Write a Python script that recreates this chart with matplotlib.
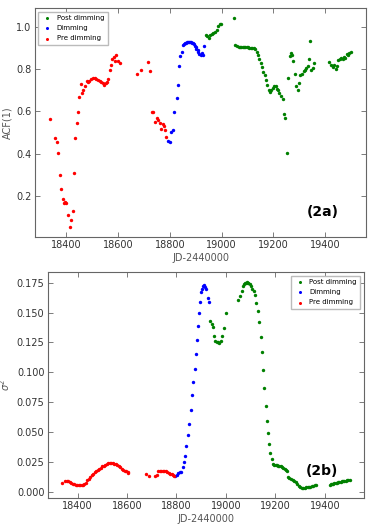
import matplotlib
matplotlib.use('Agg')
import matplotlib.pyplot as plt

# ---- panel (2a): ACF(1) ----
pre_jd_a = [18338, 18356, 18364, 18370, 18375, 18382, 18387, 18391, 18396, 18401,
            18408, 18414, 18419, 18425, 18430, 18435, 18441, 18446, 18450, 18457,
            18461, 18467, 18474, 18479, 18484, 18490, 18497, 18503, 18510, 18516,
            18523, 18529, 18535, 18542, 18547, 18552, 18557, 18563, 18568, 18573,
            18578, 18583, 18587, 18594, 18600, 18606,
            18675, 18690, 18714, 18723, 18730, 18737, 18743, 18751, 18756, 18761,
            18766, 18773, 18777, 18783, 18787]
pre_acf = [0.563, 0.476, 0.454, 0.402, 0.300, 0.230, 0.183, 0.164, 0.171, 0.168,
           0.111, 0.054, 0.083, 0.130, 0.308, 0.475, 0.543, 0.595, 0.670, 0.730,
           0.686, 0.703, 0.722, 0.743, 0.737, 0.743, 0.751, 0.759, 0.756, 0.751,
           0.749, 0.746, 0.741, 0.732, 0.725, 0.732, 0.741, 0.754, 0.798, 0.821,
           0.849, 0.857, 0.837, 0.865, 0.837, 0.830,
           0.776, 0.798, 0.835, 0.792, 0.595, 0.595, 0.549, 0.567, 0.560, 0.544,
           0.516, 0.540, 0.532, 0.514, 0.479]

dim_jd_a = [18794, 18800, 18805, 18814, 18818, 18826, 18831, 18836, 18841, 18846,
            18852, 18856, 18859, 18863, 18867, 18871, 18875, 18879, 18883, 18887,
            18890, 18894, 18897, 18900, 18903, 18907, 18910, 18914, 18919, 18923,
            18929, 18932]
dim_acf = [0.459, 0.454, 0.500, 0.511, 0.598, 0.665, 0.725, 0.816, 0.862, 0.883,
           0.914, 0.919, 0.922, 0.925, 0.927, 0.929, 0.930, 0.930, 0.929, 0.926,
           0.922, 0.917, 0.911, 0.904, 0.897, 0.889, 0.881, 0.870, 0.865, 0.875,
           0.865, 0.910]

post_jd_a = [18938, 18945, 18950, 18955, 18961, 18968, 18974, 18981, 18987, 18992,
             18997, 19048, 19053, 19059, 19066, 19071, 19076, 19082, 19087, 19092,
             19097, 19102, 19107, 19112, 19117, 19123, 19129, 19135, 19141, 19146,
             19151, 19156, 19161, 19166, 19172, 19177, 19182, 19187, 19192, 19197,
             19203, 19208, 19213, 19218, 19223, 19230, 19236, 19241, 19246, 19253,
             19257, 19262, 19268, 19272, 19277, 19283, 19288, 19293, 19298, 19303,
             19310, 19316, 19321, 19326, 19332, 19337, 19341, 19346, 19352, 19357,
             19415, 19422, 19428, 19435, 19440, 19445, 19450, 19457, 19462, 19467,
             19472, 19477, 19483, 19488, 19493, 19499]
post_acf = [0.963, 0.957, 0.946, 0.960, 0.968, 0.971, 0.976, 0.986, 1.002, 1.016,
            1.016, 1.040, 0.916, 0.910, 0.905, 0.904, 0.904, 0.903, 0.903, 0.903,
            0.903, 0.903, 0.902, 0.902, 0.901, 0.899, 0.894, 0.881, 0.865, 0.849,
            0.830, 0.810, 0.786, 0.770, 0.748, 0.727, 0.700, 0.694, 0.703, 0.711,
            0.722, 0.719, 0.708, 0.700, 0.687, 0.675, 0.659, 0.587, 0.568, 0.402,
            0.760, 0.862, 0.875, 0.868, 0.837, 0.779, 0.722, 0.703, 0.735, 0.773,
            0.779, 0.790, 0.798, 0.806, 0.814, 0.849, 0.935, 0.798, 0.806, 0.827,
            0.835, 0.819, 0.811, 0.819, 0.802, 0.817, 0.843, 0.846, 0.852, 0.846,
            0.859, 0.854, 0.870, 0.865, 0.875, 0.881]

# ---- panel (2b): sigma^2 ----
pre_jd_b = [18338, 18350, 18356, 18362, 18368, 18374, 18380, 18386, 18392, 18398,
            18404, 18410, 18416, 18422, 18428, 18434, 18440, 18446, 18452, 18458,
            18464, 18470, 18476, 18482, 18488, 18494, 18500, 18506, 18512, 18518,
            18524, 18530, 18536, 18542, 18548, 18554, 18560, 18566, 18572, 18578,
            18584, 18590, 18596, 18602, 18606,
            18675, 18690, 18712, 18720, 18726, 18732, 18738, 18744, 18750, 18756,
            18762, 18768, 18774, 18780, 18786, 18790]
pre_var = [0.0072, 0.0090, 0.0090, 0.0088, 0.0084, 0.0075, 0.0066, 0.0061, 0.0058, 0.0056,
           0.0054, 0.0052, 0.0052, 0.0055, 0.0061, 0.0075, 0.0094, 0.0108, 0.0120, 0.0135,
           0.0150, 0.0162, 0.0170, 0.0178, 0.0188, 0.0200, 0.0210, 0.0217, 0.0225, 0.0232,
           0.0237, 0.0240, 0.0240, 0.0238, 0.0235, 0.0230, 0.0222, 0.0214, 0.0205, 0.0193,
           0.0182, 0.0175, 0.0170, 0.0165, 0.0158,
           0.0144, 0.0133, 0.0133, 0.0139, 0.0173, 0.0176, 0.0176, 0.0174, 0.0172, 0.0168,
           0.0163, 0.0156, 0.0150, 0.0144, 0.0139, 0.0133]

dim_jd_b = [18796, 18802, 18808, 18814, 18820, 18827, 18831, 18835, 18840, 18846,
            18851, 18857, 18862, 18867, 18873, 18877, 18882, 18888, 18892, 18897,
            18901, 18905, 18908, 18911, 18915, 18919, 18926, 18931]
dim_var = [0.0127, 0.0139, 0.0156, 0.0165, 0.0165, 0.0208, 0.0248, 0.0295, 0.0381, 0.0474,
           0.0569, 0.0687, 0.0809, 0.0921, 0.1031, 0.1152, 0.1268, 0.1386, 0.1493, 0.1588,
           0.1675, 0.1700, 0.1725, 0.1733, 0.1715, 0.1698, 0.1626, 0.1591]

post_jd_b = [18937, 18943, 18949, 18953, 18957, 18962, 18968, 18973, 18979, 18984,
             18993, 18999, 19048, 19056, 19064, 19071, 19075, 19078, 19081, 19084,
             19088, 19091, 19096, 19102, 19107, 19113, 19117, 19122, 19128, 19134,
             19140, 19145, 19151, 19156, 19162, 19167, 19171, 19175, 19180, 19186,
             19191, 19196, 19201, 19206, 19211, 19216, 19221, 19226, 19231, 19237,
             19242, 19246, 19251, 19256, 19263, 19270, 19276, 19283, 19289, 19294,
             19300, 19306, 19312, 19318, 19324, 19330, 19336, 19342, 19348, 19354,
             19360, 19365,
             19419, 19424, 19429, 19434, 19439, 19444, 19449, 19454, 19459, 19464,
             19469, 19474, 19479, 19484, 19489, 19494, 19500]
post_var = [0.1432, 0.1403, 0.1375, 0.1305, 0.1265, 0.1256, 0.1250, 0.1242, 0.1259, 0.1302,
            0.1369, 0.1499, 0.1608, 0.1640, 0.1681, 0.1721, 0.1735, 0.1744, 0.1750, 0.1752,
            0.1751, 0.1749, 0.1741, 0.1721, 0.1701, 0.1681, 0.1646, 0.1582, 0.1510, 0.1418,
            0.1299, 0.1169, 0.1019, 0.0866, 0.0716, 0.0595, 0.0488, 0.0399, 0.0326, 0.0269,
            0.0228, 0.0222, 0.0219, 0.0219, 0.0218, 0.0217, 0.0214, 0.0208, 0.0200, 0.0190,
            0.0180, 0.0173, 0.0118, 0.0110, 0.0101, 0.0095, 0.0092, 0.0081, 0.0066, 0.0046,
            0.0035, 0.0032, 0.0032, 0.0033, 0.0035, 0.0037, 0.0039, 0.0041, 0.0045, 0.0049,
            0.0053, 0.0056,
            0.0058, 0.0061, 0.0064, 0.0067, 0.0069, 0.0072, 0.0075, 0.0078, 0.0081, 0.0084,
            0.0086, 0.0088, 0.0090, 0.0092, 0.0094, 0.0096, 0.0099]

series_labels = ['Post dimming', 'Dimming', 'Pre dimming']
series_colors = ['green', 'blue', 'red']


def style_axes(ax):
    for sp in ax.spines.values():
        sp.set_color('#666666')
        sp.set_linewidth(0.8)
    ax.tick_params(direction='in', top=True, right=True, length=3.5, width=0.6,
                   colors='#666666', labelcolor='#333333', labelsize=7, pad=2.5)
    ax.set_xticks([18400, 18600, 18800, 19000, 19200, 19400])


fig = plt.figure(figsize=(3.74, 5.30), dpi=100)

ax1 = fig.add_axes([0.0936, 0.5528, 0.885, 0.432])
for jd, val, lab, col in zip([post_jd_a, dim_jd_a, pre_jd_a], [post_acf, dim_acf, pre_acf],
                             series_labels, series_colors):
    ax1.scatter(jd, val, s=6, color=col, linewidths=0, label=lab)
style_axes(ax1)
ax1.set_yticks([0.2, 0.4, 0.6, 0.8, 1.0])
ax1.set_xlabel('JD-2440000', fontsize=7, color='#555555', labelpad=2)
ax1.set_ylabel('ACF(1)', fontsize=7, color='#555555', labelpad=3)
ax1.legend(loc='upper left', fontsize=5, markerscale=0.9, handletextpad=0.6,
           borderpad=0.5, labelspacing=0.6, edgecolor='#bbbbbb', fancybox=False,
           framealpha=1, handlelength=1.5)
ax1.text(0.87, 0.11, '(2a)', transform=ax1.transAxes, fontsize=10, fontweight='bold',
         ha='center', va='center')

ax2 = fig.add_axes([0.128, 0.0604, 0.845, 0.426])
for jd, val, lab, col in zip([post_jd_b, dim_jd_b, pre_jd_b], [post_var, dim_var, pre_var],
                             series_labels, series_colors):
    ax2.scatter(jd, val, s=6, color=col, linewidths=0, label=lab)
style_axes(ax2)
ax2.set_yticks([0.0, 0.025, 0.05, 0.075, 0.1, 0.125, 0.15, 0.175])
ax2.set_xlabel('JD-2440000', fontsize=7, color='#555555', labelpad=2)
ax2.set_ylabel(r'$\sigma^2$', fontsize=7, color='#555555', labelpad=3)
ax2.legend(loc='upper right', fontsize=5, markerscale=0.9, handletextpad=0.6,
           borderpad=0.5, labelspacing=0.6, edgecolor='#bbbbbb', fancybox=False,
           framealpha=1, handlelength=1.5)
ax2.text(0.867, 0.12, '(2b)', transform=ax2.transAxes, fontsize=10, fontweight='bold',
         ha='center', va='center')

fig.savefig('out.png', dpi=100)
